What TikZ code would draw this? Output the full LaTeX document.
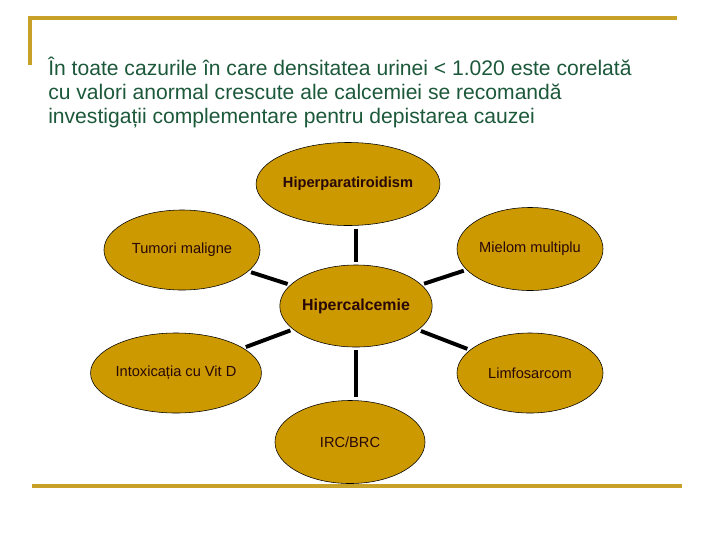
\documentclass[tikz,border=0pt]{standalone}
\usepackage{fontspec}
\setmainfont{Liberation Sans}
\usetikzlibrary{shapes.geometric,calc}

\definecolor{gold}{RGB}{204,153,0}
\definecolor{rulegold}{RGB}{200,162,40}
\definecolor{titlegreen}{RGB}{28,88,58}
\definecolor{inktext}{RGB}{40,8,8}

\begin{document}
\begin{tikzpicture}[
  x=0.025cm, y=-0.025cm,
  rulebar/.style={draw=rulegold, line width=2.2pt},
  cause/.style={ellipse, draw=black, thin, fill=gold, inner sep=0pt,
    minimum width=3.9cm, minimum height=2.0cm, text=inktext, font=\fontsize{10.4}{12}\selectfont},
  link/.style={draw=black, line width=2.8pt, shorten >=2pt, shorten <=2pt},
]
  \useasboundingbox (0,0) rectangle (720,540);

  % Frame
  \draw[rulebar] (30,65) -- (30,18) -- (677,18);
  \draw[rulebar] (32,486) -- (682,486);

  % Title (anchored on the baseline of its last line)
  \node[anchor=base west, align=left, text=titlegreen, inner sep=0pt,
    font=\fontsize{15}{16.9}\selectfont] (title) at (48,123)
    {În toate cazurile în care densitatea urinei < 1.020 este corelată\\
     cu valori anormal crescute ale calcemiei se recomandă\\
     investigații complementare pentru depistarea cauzei};

  % Centre
  \node[cause, minimum width=3.75cm, minimum height=2.05cm,
    font=\bfseries\fontsize{11.3}{13}\selectfont] (hcal) at (356,306) {Hipercalcemie};

  % Causes
  \node[cause, minimum width=4.25cm, minimum height=2.075cm,
    font=\bfseries\fontsize{10.4}{12}\selectfont] (hyper) at (348,184) {Hiperparatiroidism};
  \node[cause] (tumor) at (182,250) {Tumori maligne};
  \node[cause, minimum width=3.65cm, minimum height=2.075cm] (mielom) at (530,249) {Mielom multiplu};
  \node[cause, minimum width=4.175cm] (vitd) at (176,373) {Intoxicația cu Vit D};
  \node[cause, minimum width=3.65cm] (limfo) at (530,373) {Limfosarcom};
  \node[cause, minimum width=3.75cm, minimum height=2.075cm] (irc) at (350,442) {IRC/BRC};

  % Links
  \draw[link] (hyper.south -| hcal.north) -- (hcal.north);
  \draw[link] (hcal.south) -- (hcal.south |- irc.north);
  \draw[link] (tumor) -- (hcal);
  \draw[link] (mielom) -- (hcal);
  \draw[link] (vitd) -- (hcal);
  \draw[link] (limfo) -- (hcal);
\end{tikzpicture}
\end{document}
